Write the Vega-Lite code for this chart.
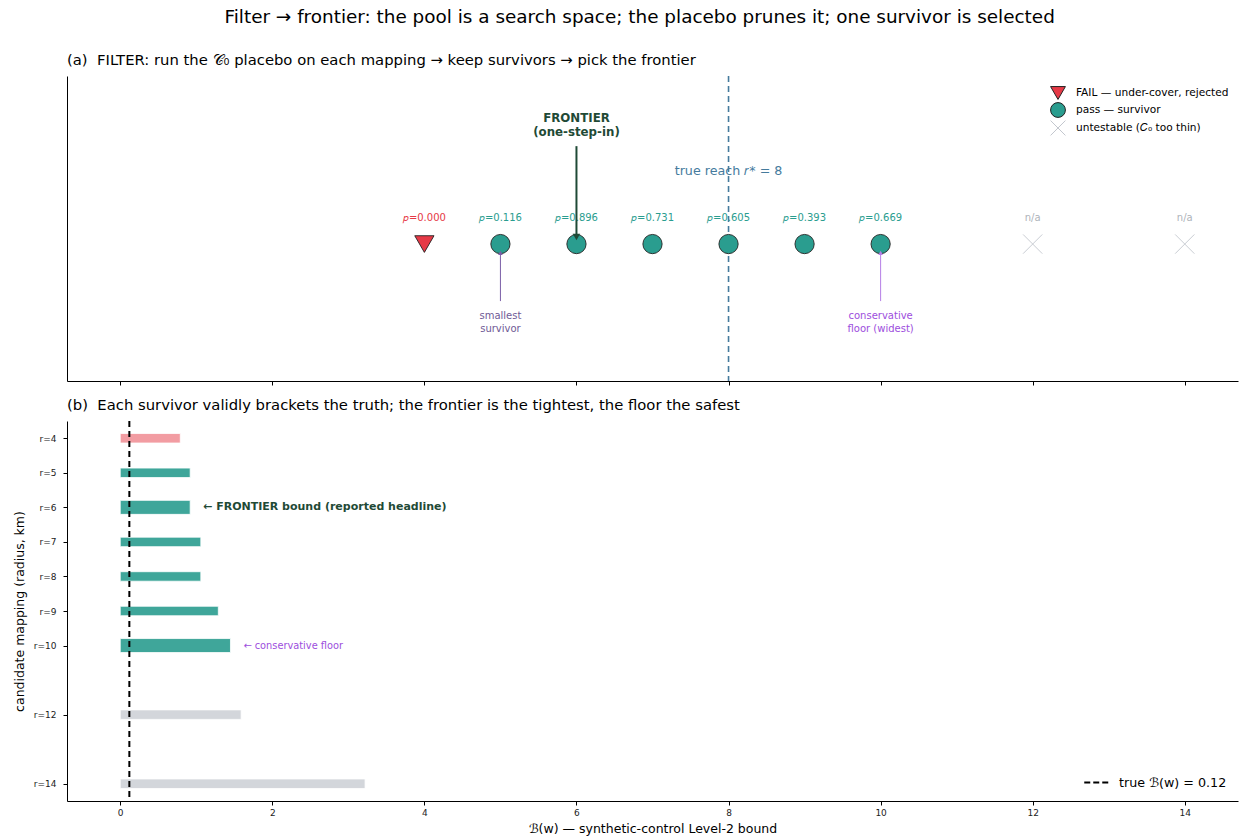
{
  "$schema": "https://vega.github.io/schema/vega-lite/v6.json",
  "background": "white",
  "padding": {"left": 13, "top": 8, "right": 1, "bottom": 2},
  "title": {
    "text": "Filter → frontier: the pool is a search space; the placebo prunes it; one survivor is selected",
    "fontSize": 18.4,
    "fontWeight": "normal",
    "font": "DejaVu Sans",
    "color": "#000",
    "anchor": "middle",
    "dx": 14,
    "offset": 27
  },
  "config": {
    "font": "DejaVu Sans",
    "view": {"stroke": null},
    "axis": {
      "grid": false,
      "domainColor": "#000",
      "domainWidth": 1,
      "tickColor": "#000",
      "tickSize": 4,
      "labelFont": "DejaVu Sans",
      "labelFontSize": 9,
      "labelColor": "#222",
      "labelPadding": 3,
      "titleFont": "DejaVu Sans",
      "titleFontWeight": "normal",
      "titleFontSize": 12.5,
      "titleColor": "#000"
    },
    "title": {"font": "DejaVu Sans", "fontWeight": "normal", "color": "#000"},
    "legend": {"labelFont": "DejaVu Sans", "labelColor": "#000"}
  },
  "resolve": {
    "scale": {"fill": "independent", "stroke": "independent", "shape": "independent"},
    "legend": {"fill": "independent", "stroke": "independent", "shape": "independent"}
  },
  "spacing": 12,
  "datasets": {
    "mappings": [
      {"r": 4, "status": "FAIL — under-cover, rejected", "plabel": "𝑝=0.000"},
      {"r": 5, "status": "pass — survivor", "plabel": "𝑝=0.116"},
      {"r": 6, "status": "pass — survivor", "plabel": "𝑝=0.896"},
      {"r": 7, "status": "pass — survivor", "plabel": "𝑝=0.731"},
      {"r": 8, "status": "pass — survivor", "plabel": "𝑝=0.605"},
      {"r": 9, "status": "pass — survivor", "plabel": "𝑝=0.393"},
      {"r": 10, "status": "pass — survivor", "plabel": "𝑝=0.669"},
      {"r": 12, "status": "untestable (𝐶₀ too thin)", "plabel": "n/a"},
      {"r": 14, "status": "untestable (𝐶₀ too thin)", "plabel": "n/a"}
    ],
    "bounds": [
      {"r": 4, "bound": 0.79, "status": "fail", "role": ""},
      {"r": 5, "bound": 0.92, "status": "pass", "role": ""},
      {"r": 6, "bound": 0.92, "status": "pass", "role": "frontier"},
      {"r": 7, "bound": 1.06, "status": "pass", "role": ""},
      {"r": 8, "bound": 1.06, "status": "pass", "role": ""},
      {"r": 9, "bound": 1.29, "status": "pass", "role": ""},
      {"r": 10, "bound": 1.45, "status": "pass", "role": "floor"},
      {"r": 12, "bound": 1.59, "status": "untestable", "role": ""},
      {"r": 14, "bound": 3.22, "status": "untestable", "role": ""}
    ]
  },
  "vconcat": [
    {
      "width": 1171,
      "height": 305,
      "title": {
        "text": "(a)\u00a0\u00a0FILTER: run the 𝒞₀ placebo on each mapping → keep survivors → pick the frontier",
        "anchor": "start",
        "frame": "group",
        "fontSize": 14.8,
        "offset": 7
      },
      "encoding": {
        "x": {
          "type": "quantitative",
          "scale": {"domain": [-0.7, 14.7], "nice": false, "zero": false},
          "axis": {"values": [0, 2, 4, 6, 8, 10, 12, 14], "labels": false, "title": null}
        },
        "y": {
          "type": "quantitative",
          "scale": {"domain": [0, 1], "nice": false, "zero": false},
          "axis": {"labels": false, "ticks": false, "title": null}
        }
      },
      "layer": [
        {
          "data": {"values": [{"r": 8}]},
          "mark": {"type": "rule", "color": "#457b9d", "strokeDash": [6, 4], "strokeWidth": 1.6},
          "encoding": {"x": {"field": "r"}, "y": null}
        },
        {
          "data": {"values": [{"r": 8, "y": 0.689, "text": "true reach 𝑟* = 8"}]},
          "mark": {"type": "text", "color": "#457b9d", "fontSize": 12.7, "align": "center", "baseline": "middle"},
          "encoding": {"x": {"field": "r"}, "y": {"field": "y"}, "text": {"field": "text"}}
        },
        {
          "data": {"name": "mappings"},
          "mark": {"type": "point", "filled": true, "size": 370, "strokeWidth": 0.9, "opacity": 1},
          "encoding": {
            "x": {"field": "r"},
            "y": {"datum": 0.449},
            "shape": {
              "field": "status",
              "type": "nominal",
              "scale": {
                "domain": ["FAIL — under-cover, rejected", "pass — survivor", "untestable (𝐶₀ too thin)"],
                "range": ["triangle-down", "circle", "M-1,-1L1,1M-1,1L1,-1"]
              },
              "legend": {
                "title": null,
                "orient": "top-right",
                "offset": 9,
                "labelFontSize": 10.6,
                "symbolSize": 220,
                "rowPadding": -3,
                "labelOffset": 10,
                "symbolStrokeWidth": 1
              }
            },
            "fill": {
              "field": "status",
              "type": "nominal",
              "scale": {
                "domain": ["FAIL — under-cover, rejected", "pass — survivor", "untestable (𝐶₀ too thin)"],
                "range": ["#e63946", "#2a9d8f", "#aeb3ba"]
              }
            },
            "stroke": {
              "field": "status",
              "type": "nominal",
              "scale": {
                "domain": ["FAIL — under-cover, rejected", "pass — survivor", "untestable (𝐶₀ too thin)"],
                "range": ["#222222", "#222222", "#c3c7ce"]
              }
            }
          }
        },
        {
          "data": {"name": "mappings"},
          "mark": {"type": "text", "fontSize": 10, "align": "center", "baseline": "middle"},
          "encoding": {
            "x": {"field": "r"},
            "y": {"datum": 0.534},
            "text": {"field": "plabel"},
            "fill": {"field": "status", "type": "nominal"}
          }
        },
        {
          "data": {"values": [{"r": 6, "y": 0.77, "y2": 0.47}]},
          "mark": {"type": "rule", "color": "#1f4a36", "strokeWidth": 2},
          "encoding": {"x": {"field": "r"}, "y": {"field": "y"}, "y2": {"field": "y2"}}
        },
        {
          "data": {"values": [{"r": 6, "y": 0.472}]},
          "mark": {"type": "point", "shape": "triangle-down", "filled": true, "size": 55, "color": "#1f4a36", "opacity": 1},
          "encoding": {"x": {"field": "r"}, "y": {"field": "y"}}
        },
        {
          "data": {"values": [{"r": 6, "y": 0.862, "text": ["FRONTIER", "(one-step-in)"]}]},
          "mark": {"type": "text", "color": "#1f4a36", "fontSize": 11.8, "fontWeight": "bold", "align": "center", "baseline": "middle", "lineHeight": 14},
          "encoding": {"x": {"field": "r"}, "y": {"field": "y"}, "text": {"field": "text"}}
        },
        {
          "data": {"values": [{"r": 5, "y": 0.262, "y2": 0.415}]},
          "mark": {"type": "rule", "color": "#7b5ea7", "strokeWidth": 1},
          "encoding": {"x": {"field": "r"}, "y": {"field": "y"}, "y2": {"field": "y2"}}
        },
        {
          "data": {"values": [{"r": 5, "y": 0.42}]},
          "mark": {"type": "point", "shape": "triangle-up", "filled": true, "size": 22, "color": "#7b5ea7", "opacity": 1},
          "encoding": {"x": {"field": "r"}, "y": {"field": "y"}}
        },
        {
          "data": {"values": [{"r": 5, "y": 0.213, "text": ["smallest", "survivor"]}]},
          "mark": {"type": "text", "color": "#6f5a96", "fontSize": 10, "align": "center", "baseline": "middle", "lineHeight": 13},
          "encoding": {"x": {"field": "r"}, "y": {"field": "y"}, "text": {"field": "text"}}
        },
        {
          "data": {"values": [{"r": 10, "y": 0.262, "y2": 0.415}]},
          "mark": {"type": "rule", "color": "#b57ee6", "strokeWidth": 1},
          "encoding": {"x": {"field": "r"}, "y": {"field": "y"}, "y2": {"field": "y2"}}
        },
        {
          "data": {"values": [{"r": 10, "y": 0.42}]},
          "mark": {"type": "point", "shape": "triangle-up", "filled": true, "size": 22, "color": "#b57ee6", "opacity": 1},
          "encoding": {"x": {"field": "r"}, "y": {"field": "y"}}
        },
        {
          "data": {"values": [{"r": 10, "y": 0.213, "text": ["conservative", "floor (widest)"]}]},
          "mark": {"type": "text", "color": "#9d4edd", "fontSize": 10, "align": "center", "baseline": "middle", "lineHeight": 13},
          "encoding": {"x": {"field": "r"}, "y": {"field": "y"}, "text": {"field": "text"}}
        }
      ]
    },
    {
      "width": 1171,
      "height": 380,
      "title": {
        "text": "(b)\u00a0\u00a0Each survivor validly brackets the truth; the frontier is the tightest, the floor the safest",
        "anchor": "start",
        "frame": "group",
        "fontSize": 14.8,
        "offset": 7
      },
      "encoding": {
        "x": {
          "type": "quantitative",
          "scale": {"domain": [-0.7, 14.7], "nice": false, "zero": false, "padding": 0},
          "axis": {"values": [0, 2, 4, 6, 8, 10, 12, 14], "title": "ℬ(w) — synthetic-control Level-2 bound", "titlePadding": 5}
        },
        "y": {
          "type": "quantitative",
          "scale": {"domain": [3.5, 14.5], "reverse": true, "nice": false, "zero": false, "padding": 0},
          "axis": {
            "values": [4, 5, 6, 7, 8, 9, 10, 12, 14],
            "labelExpr": "'r=' + datum.value",
            "labelPadding": 7,
            "title": "candidate mapping (radius, km)",
            "titlePadding": 7
          }
        }
      },
      "layer": [
        {
          "data": {"name": "bounds"},
          "mark": {"type": "bar", "stroke": "#ffffff", "strokeWidth": 0.8, "orient": "horizontal"},
          "encoding": {
            "y": {"field": "r"},
            "x": {"field": "bound"},
            "x2": {"datum": 0},
            "fill": {
              "field": "status",
              "type": "nominal",
              "scale": {"domain": ["fail", "pass", "untestable"], "range": ["#f29ca2", "#3fa69a", "#d3d6db"]},
              "legend": null
            },
            "size": {"condition": {"test": "datum.role !== ''", "value": 14}, "value": 9.5}
          }
        },
        {
          "data": {"values": [{"bstar": 0.12, "label": "true ℬ(w) = 0.12"}]},
          "mark": {"type": "rule", "strokeDash": [6, 4], "strokeWidth": 2},
          "encoding": {
            "x": {"field": "bstar"},
            "y": null,
            "stroke": {
              "field": "label",
              "type": "nominal",
              "scale": {"range": ["#000000"]},
              "legend": {
                "title": null,
                "orient": "bottom-right",
                "offset": 11,
                "symbolType": "stroke",
                "symbolDash": [6, 3],
                "symbolStrokeWidth": 2,
                "symbolSize": 600,
                "labelOffset": 9,
                "labelFontSize": 12.7
              }
            }
          }
        },
        {
          "data": {"values": [{"x": 1.09, "r": 6, "text": "← FRONTIER bound (reported headline)"}]},
          "mark": {"type": "text", "color": "#1f4a36", "fontSize": 11, "fontWeight": "bold", "align": "left", "baseline": "middle"},
          "encoding": {"x": {"field": "x"}, "y": {"field": "r"}, "text": {"field": "text"}}
        },
        {
          "data": {"values": [{"x": 1.62, "r": 10, "text": "← conservative floor"}]},
          "mark": {"type": "text", "color": "#9d4edd", "fontSize": 9.8, "align": "left", "baseline": "middle"},
          "encoding": {"x": {"field": "x"}, "y": {"field": "r"}, "text": {"field": "text"}}
        }
      ]
    }
  ]
}
